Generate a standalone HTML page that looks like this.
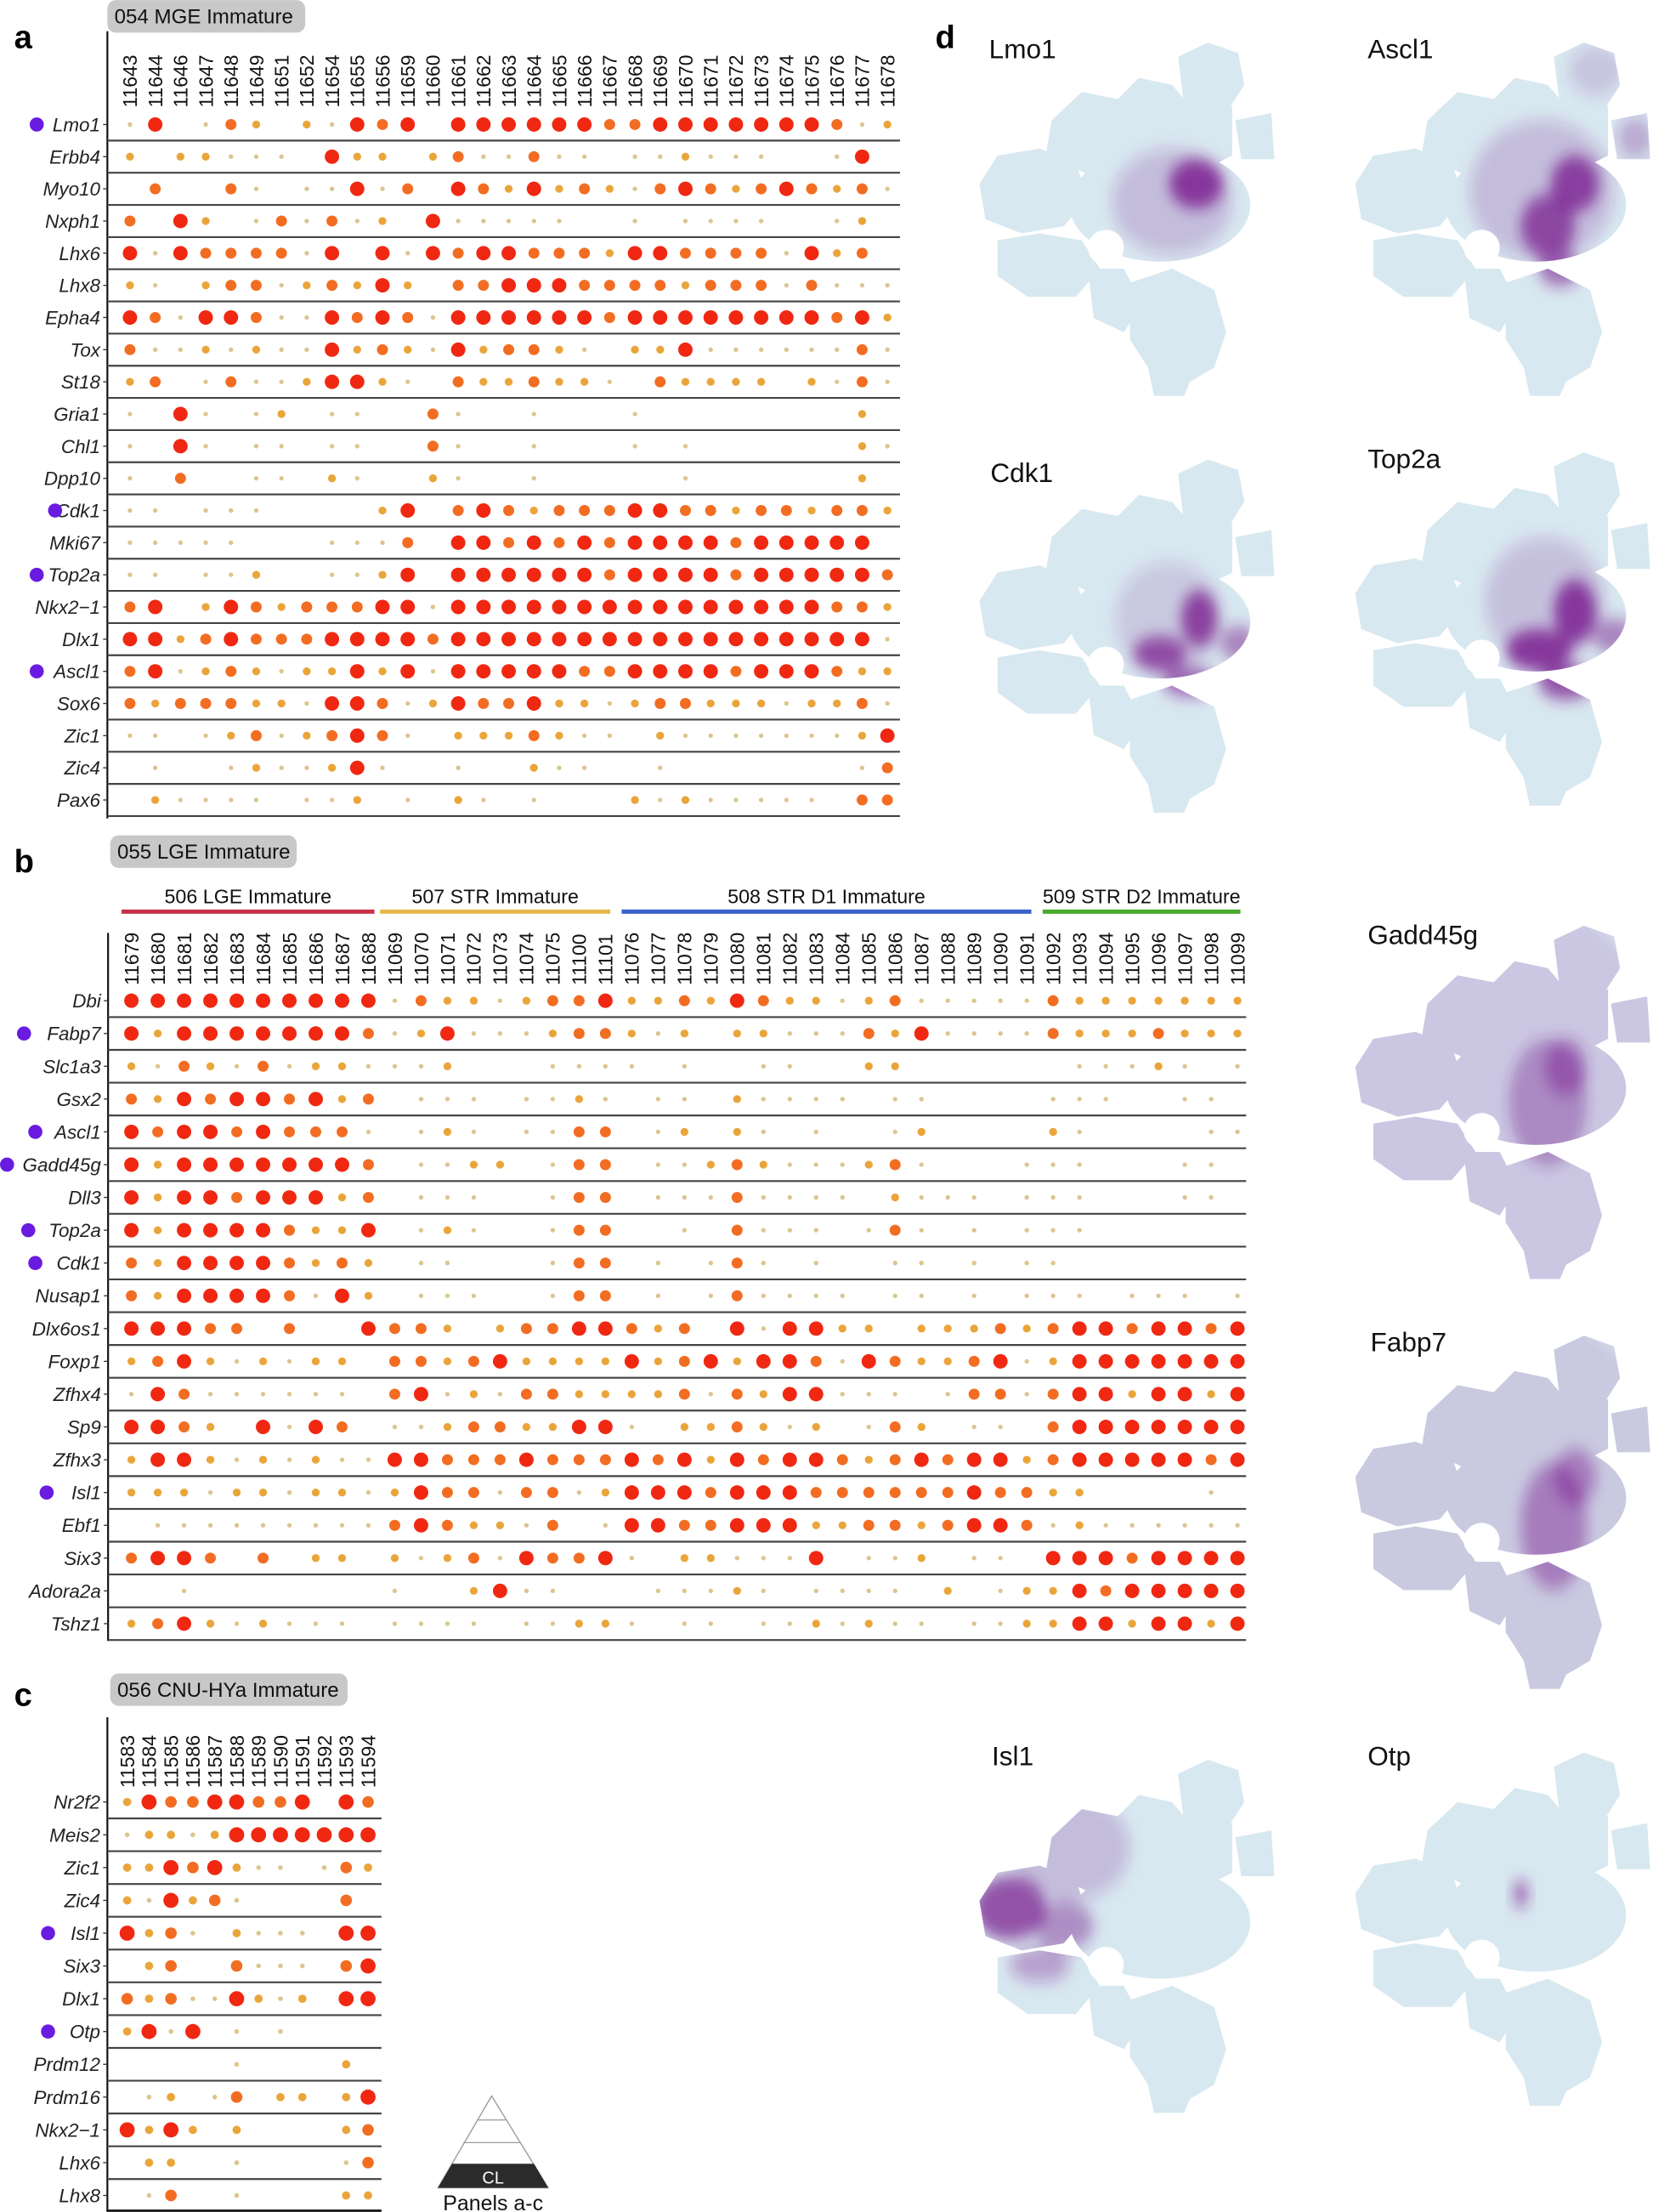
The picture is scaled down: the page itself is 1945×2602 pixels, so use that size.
<!DOCTYPE html>
<html><head><meta charset="utf-8"><style>
html,body{margin:0;padding:0;background:#fff;}
svg{display:block;}
text{font-family:"Liberation Sans",sans-serif;}
</style></head><body>
<svg id="s" xmlns="http://www.w3.org/2000/svg" width="1945" height="2602" viewBox="0 0 1170 1565">
<defs>
<filter id="bl" x="-50%" y="-50%" width="200%" height="200%"><feGaussianBlur stdDeviation="2.2"/></filter>
</defs>
<rect width="1170" height="1565" fill="#fff"/>
<g id="main"></g>
</svg>
<script>
var NS="http://www.w3.org/2000/svg";
var M=document.getElementById('main');
function el(t,a,p){var e=document.createElementNS(NS,t);for(var k in a)e.setAttribute(k,a[k]);(p||M).appendChild(e);return e;}
function tx(x,y,s,a,p){var e=el('text',a,p);e.setAttribute('x',x);e.setAttribute('y',y);e.textContent=s;return e;}
var R=[0,1.6,2.8,3.9,5.1],C=['','#dcc58e','#eaa53a','#f26d22','#f02812'];
function panel(o){
  el('line',{x1:o.ax,y1:o.ay0,x2:o.ax,y2:o.ay1,stroke:'#111','stroke-width':1.3});
  o.rows.forEach(function(r,i){
    var y=o.r0+i*o.rs;
    el('line',{x1:o.ax,y1:y+o.rs/2,x2:o.xr,y2:y+o.rs/2,stroke:'#444','stroke-width':1.3});
    el('line',{x1:o.ax-3,y1:y,x2:o.ax,y2:y,stroke:'#333','stroke-width':0.8});
    tx(o.ax-5,y+4.8,r[0],{'font-size':13.5,'font-style':'italic','text-anchor':'end',fill:'#222'});
    if(r[2]!=null)el('circle',{cx:r[2],cy:y,r:5,fill:'#6a1be0'});
    var s=r[1];
    for(var j=0;j<s.length;j++){var v=+s[j];if(!v)continue;
      el('circle',{cx:o.c0+j*o.cs,cy:y,r:R[v]*(o.sc||1),fill:C[v]});}
  });
  o.cols.forEach(function(c,j){var x=o.c0+j*o.cs+5;
    tx(x,o.ly,c,{'font-size':13.8,'transform':'rotate(-90 '+x+' '+o.ly+')',fill:'#111'});});
}
function box(x,y,w,s){el('rect',{x:x,y:y,width:w,height:23,rx:6,fill:'#c8c8c8'});tx(x+5,y+16.5,s,{'font-size':14.5,fill:'#111'});}
tx(10,34,'a',{'font-size':23,'font-weight':'bold'});
box(76,0,140,'054 MGE Immature');
var colsA=['11643','11644','11646','11647','11648','11649','11651','11652','11654','11655','11656','11659','11660'];
for(var i=11661;i<=11678;i++)colsA.push(''+i);
panel({ax:76,ay0:22,ay1:579,xr:637,r0:88,rs:22.76,c0:92,cs:17.87,ly:76,cols:colsA,rows:[
['Lmo1','1401320214340444444334444444312',26],
['Erbb4','2022111042202311311011211100140'],
['Myo10','0300310114130432423213432343231'],
['Nxph1','3042013131204111110010111100120'],
['Lhx6','4143333140414344333244333314230'],
['Lhx8','2102331232420334443333233313111'],
['Epha4','4314431143431444444344444444342'],
['Tox','3112121142321423321022411111131'],
['St18','2301311244210322322103222202131'],
['Gria1','1041012011003100100010000000020'],
['Chl1','1041011011003100100010100000021'],
['Dpp10','1030011021002100100000100000020'],
['Cdk1','1101110000240343233344332332332',39],
['Mki67','1111100011130443434344443444440'],
['Top2a','1101120011240444444344443444443',26],
['Nkx2\u22121','3402432333441444444444444444332'],
['Dlx1','4423433344443444444444444444441'],
['Ascl1','3412321224241444443344443444322',26],
['Sox6','3233322144312433422123322212231'],
['Zic1','1101231234310222321102111111124'],
['Zic4','0100121124100100211001000000013'],
['Pax6','0211110112010210100021211111033']]});
tx(10,617,'b',{'font-size':23,'font-weight':'bold'});
box(78,591,132,'055 LGE Immature');
[[86,265,'#c8304a','506 LGE Immature'],[269,432,'#e6b84a','507 STR Immature'],[440,730,'#3a62cc','508 STR D1 Immature'],[738,878,'#4aaa2a','509 STR D2 Immature']].forEach(function(g){
  el('line',{x1:g[0],y1:645,x2:g[1],y2:645,stroke:g[2],'stroke-width':3});
  tx((g[0]+g[1])/2,639,g[3],{'font-size':14,'text-anchor':'middle',fill:'#111'});});
var colsB=[];for(i=11679;i<=11688;i++)colsB.push(''+i);
colsB=colsB.concat(['11069','11070','11071','11072','11073','11074','11075','11100','11101']);
for(i=11076;i<=11099;i++)colsB.push(''+i);
panel({ax:76.5,ay0:660,ay1:1161,xr:882,r0:708,rs:23.2,c0:93,cs:18.64,ly:697,cols:colsB,rows:[
['Dbi','4444444444'+'132212334'+'2232432212311111'+'32222222'],
['Fabp7','4244444443'+'124111233'+'2120221113241111'+'32223222',17],
['Slc1a3','2132131221'+'112000111'+'1010011002200000'+'01112101'],
['Gsx2','3243443423'+'011101121'+'0110211110110000'+'11100110'],
['Ascl1','4344343331'+'012101133'+'0120210100120000'+'21000011',25],
['Gadd45g','4244444443'+'011220133'+'0112321112310001'+'11000110',5],
['Dll3','4244344423'+'011100133'+'0111311110211101'+'11000110'],
['Top2a','4244443224'+'012100133'+'0010311101310101'+'11000000',20],
['Cdk1','3244443232'+'011000133'+'0101310100110101'+'10000000',25],
['Nusap1','3244443142'+'011100133'+'0101311110110101'+'11011101'],
['Dlx6os1','4443303004'+'332023344'+'3230414422022232'+'34434434'],
['Foxp1','2342121220'+'332342222'+'4234244314322341'+'24444444'],
['Zfhx4','1431111110'+'341213322'+'2231324411101331'+'34424424'],
['Sp9','4432041430'+'112332244'+'1022321201320110'+'34444444'],
['Zfhx3','2442121211'+'443334333'+'4342434432343442'+'34444434'],
['Isl1','2221221221'+'243313312'+'4443444333333433'+'22000010',33],
['Ebf1','0111111111'+'343221301'+'4433444223323443'+'12111111'],
['Six3','3443030220'+'212314334'+'1022111401120110'+'44434444'],
['Adora2a','0010000000'+'100241100'+'0111210111102012'+'24344444'],
['Tshz1','2342121110'+'111101122'+'1011011212110112'+'24424424']]});
tx(10,1207,'c',{'font-size':23,'font-weight':'bold'});
box(78,1184,168,'056 CNU-HYa Immature');
var colsC=[];for(i=11583;i<=11594;i++)colsC.push(''+i);
panel({ax:76,ay0:1215,ay1:1565,xr:270,r0:1275,rs:23.2,c0:90,cs:15.5,ly:1265,sc:1.05,cols:colsC,rows:[
['Nr2f2','243344334043'],['Meis2','122124444444'],['Zic1','224342110132'],['Zic4','214231000030'],
['Isl1','423102111044',34],['Six3','023003111034'],['Dlx1','323114212044'],['Otp','241401010000',34],
['Prdm12','000001000020'],['Prdm16','012013022024'],['Nkx2\u22121','424202000023'],['Lhx6','022001000013'],['Lhx8','013001000022']]});
el('line',{x1:76,y1:1564,x2:270,y2:1564,stroke:'#111','stroke-width':1.3});
el('polygon',{points:'348,1483 310,1548 388,1548',fill:'#fff',stroke:'#999','stroke-width':0.8});
el('line',{x1:338,y1:1500,x2:358,y2:1500,stroke:'#999','stroke-width':0.8});
el('line',{x1:328,y1:1516,x2:368,y2:1516,stroke:'#999','stroke-width':0.8});
el('polygon',{points:'320,1531 378,1531 388,1548 310,1548',fill:'#2b2b2b'});
tx(349,1545,'CL',{'font-size':12,'text-anchor':'middle',fill:'#fff'});
tx(349,1564,'Panels a-c',{'font-size':15,'text-anchor':'middle',fill:'#111'});
tx(662,34,'d',{'font-size':23,'font-weight':'bold'});
function shapes(p,fill){
  var f={fill:fill};
  el('polygon',Object.assign({points:'68,4 78,0 88,3 90,12 84,20 70,18'},f),p);
  el('polygon',Object.assign({points:'26,22 36,14 48,16 55,10 66,12 72,18 86,18 86,32 72,38 40,38 24,32'},f),p);
  el('polygon',Object.assign({points:'87,22 99,20 100,33 89,33'},f),p);
  el('polygon',Object.assign({points:'2,40 8,32 22,30 34,34 38,44 30,52 16,54 4,50'},f),p);
  el('ellipse',Object.assign({cx:62,cy:46,rx:30,ry:16},f),p);
  el('polygon',Object.assign({points:'8,56 22,54 36,56 42,64 34,72 18,72 8,66'},f),p);
  el('polygon',Object.assign({points:'38,64 50,64 56,74 50,82 40,78'},f),p);
  el('polygon',Object.assign({points:'52,68 66,64 80,70 84,82 80,92 72,96 70,100 60,100 58,92 52,84'},f),p);
}
var defs=document.querySelector('defs');
var cp=el('clipPath',{id:'umc',clipPathUnits:'userSpaceOnUse'},defs);shapes(cp,'#000');
function umap(name,x,y,lx,ly,blobs){
  tx(lx,ly,name,{'font-size':19,fill:'#111'});
  var g=el('g',{transform:'translate('+x+' '+y+') scale(2.13 2.5)'});
  shapes(g,'#d8e8f0');
  var pg=el('g',{'clip-path':'url(#umc)'},g);
  var fg=el('g',{filter:'url(#bl)'},pg);
  blobs.forEach(function(b){el('ellipse',{cx:b[0],cy:b[1],rx:b[2],ry:b[3],fill:'#7b1f90','fill-opacity':b[4]},fg);});
  el('ellipse',{cx:44,cy:58,rx:6,ry:5,fill:'#fff'},g);
}
umap('Lmo1',689,30,700,41,[[66,45,20,15,0.22],[74,40,9,7,0.85]]);
umap('Ascl1',955,30,968,41,[[64,42,24,20,0.22],[75,40,8,8,0.8],[66,52,9,9,0.75],[70,64,7,5,0.6],[82,8,9,7,0.18],[95,27,6,6,0.3]]);
umap('Cdk1',689,325,701,341,[[65,45,18,16,0.16],[75,45,6,8,0.8],[62,55,9,5,0.75],[72,63,9,4,0.65],[88,52,6,5,0.5]]);
umap('Top2a',955,320,968,331,[[65,42,20,18,0.2],[75,45,7,9,0.85],[63,56,11,6,0.85],[72,65,9,5,0.75],[88,52,7,5,0.5]]);
umap('Gadd45g',955,655,968,668,[[50,50,60,60,0.14],[66,50,13,18,0.4],[72,40,7,8,0.45]]);
umap('Fabp7',955,945,970,956,[[50,50,60,60,0.16],[68,54,11,18,0.45],[75,40,7,8,0.45]]);
umap('Isl1',689,1245,702,1249,[[12,42,12,9,0.75],[30,47,10,7,0.45],[22,58,10,5,0.35],[32,25,20,15,0.22]]);
umap('Otp',955,1240,968,1249,[[57,40,2.5,4,0.6]]);
</script>
</body></html>
